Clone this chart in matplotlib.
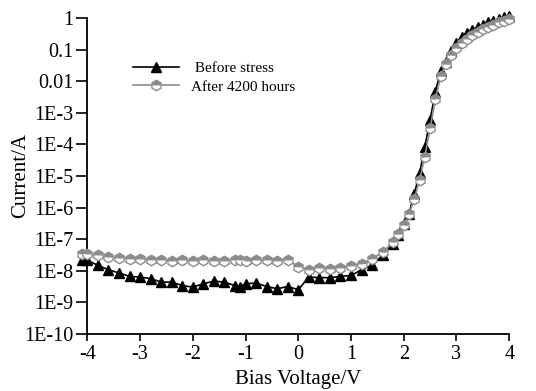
import numpy as np
import matplotlib
matplotlib.use('Agg')
import matplotlib.pyplot as plt

# Datos (voltaje en V, log10 de la corriente en A)
voltaje_antes = [-4.1, -4.0, -3.8, -3.6, -3.4, -3.2, -3.0, -2.8, -2.6, -2.4, -2.2, -2.0,
                 -1.8, -1.6, -1.4, -1.2, -1.1, -1.0, -0.8, -0.6, -0.4, -0.2, 0.0,
                 0.2, 0.4, 0.6, 0.8, 1.0, 1.2, 1.4, 1.6, 1.8, 1.9, 2.0, 2.1, 2.2, 2.3,
                 2.4, 2.5, 2.6, 2.7, 2.8, 2.9, 3.0, 3.1, 3.2, 3.3, 3.4, 3.5, 3.6, 3.7,
                 3.8, 3.9, 4.0]
log_antes = [-7.65, -7.67, -7.83, -7.97, -8.07, -8.18, -8.2, -8.25, -8.36, -8.36, -8.47, -8.52,
             -8.41, -8.33, -8.36, -8.47, -8.5, -8.41, -8.39, -8.5, -8.57, -8.5, -8.6,
             -8.2, -8.22, -8.22, -8.18, -8.15, -7.97, -7.83, -7.51, -7.14, -6.88, -6.53, -6.19,
             -5.56, -4.92, -4.07, -3.23, -2.33, -1.69, -1.38, -1.06, -0.79, -0.6, -0.48, -0.37,
             -0.29, -0.21, -0.14, -0.08, -0.03, 0.03, 0.07]

voltaje_despues = [-4.1, -4.0, -3.8, -3.6, -3.4, -3.2, -3.0, -2.8, -2.6, -2.4, -2.2, -2.0,
                   -1.8, -1.6, -1.4, -1.2, -1.1, -1.0, -0.8, -0.6, -0.4, -0.2, 0.0,
                   0.2, 0.4, 0.6, 0.8, 1.0, 1.2, 1.4, 1.6, 1.8, 1.9, 2.0, 2.1, 2.2, 2.3,
                   2.4, 2.5, 2.6, 2.7, 2.8, 2.9, 3.0, 3.1, 3.2, 3.3, 3.4, 3.5, 3.6, 3.7,
                   3.8, 3.9, 4.0]
log_despues = [-7.46, -7.48, -7.51, -7.57, -7.6, -7.62, -7.64, -7.65, -7.67, -7.69, -7.67, -7.7,
               -7.67, -7.69, -7.69, -7.65, -7.67, -7.69, -7.67, -7.67, -7.69, -7.65, -7.88,
               -7.97, -7.92, -7.94, -7.92, -7.85, -7.78, -7.62, -7.41, -7.09, -6.83, -6.56, -6.19,
               -5.74, -5.13, -4.39, -3.49, -2.57, -1.85, -1.45, -1.16, -0.95, -0.79, -0.66, -0.53,
               -0.44, -0.35, -0.29, -0.21, -0.14, -0.08, -0.02]

ticks_y = [1e-10, 1e-9, 1e-8, 1e-7, 1e-6, 1e-5, 1e-4, 1e-3, 0.01, 0.1, 1]
etiquetas_y = ['1E-10', '1E-9', '1E-8', '1E-7', '1E-6', '1E-5', '1E-4', '1E-3', '0.01', '0.1', '1']
ticks_x = [-4, -3, -2, -1, 0, 1, 2, 3, 4]

plt.rcParams['font.family'] = ['Liberation Serif', 'DejaVu Serif']

fig = plt.figure(figsize=(5.36, 3.91), dpi=100)
ax = fig.add_axes([0.163, 0.146, 0.787, 0.808])

ax.plot(voltaje_antes, 10 ** np.array(log_antes), color='black', linewidth=1.2,
        marker='^', markersize=7.5, markerfacecolor='black', markeredgecolor='black',
        label=' Before stress', clip_on=False, zorder=3)
ax.plot(voltaje_despues, 10 ** np.array(log_despues), color='#8c8c8c', linewidth=1.2,
        marker='h', markersize=7.5, markerfacecolor='#8c8c8c', markerfacecoloralt='white',
        fillstyle='top', markeredgecolor='#8c8c8c', markeredgewidth=1.0,
        label='After 4200 hours', clip_on=False, zorder=4)

ax.set_yscale('log')
ax.set_xlim(-4, 4)
ax.set_ylim(1e-10, 1)
ax.set_yticks(ticks_y)
ax.set_yticklabels(etiquetas_y)
ax.minorticks_off()
ax.set_xticks(ticks_x)
ax.set_xticklabels([str(t) for t in ticks_x])

for lado in ['top', 'right']:
    ax.spines[lado].set_visible(False)
for lado in ['left', 'bottom']:
    ax.spines[lado].set_linewidth(1.3)

ax.tick_params(axis='y', direction='out', length=8, width=1.2, labelsize=14.5, pad=2)
ax.tick_params(axis='x', direction='out', length=5, width=1.2, labelsize=14.5, pad=3)

ax.set_xlabel('Bias Voltage/V', fontsize=15, labelpad=4)
ax.set_ylabel('Current/A', fontsize=15, labelpad=-4)

ax.legend(loc='upper left', bbox_to_anchor=(0.075, 0.905), frameon=False, fontsize=11,
          handlelength=3.0, handletextpad=0.8, labelspacing=0.3)

fig.savefig('out.png', dpi=100)
